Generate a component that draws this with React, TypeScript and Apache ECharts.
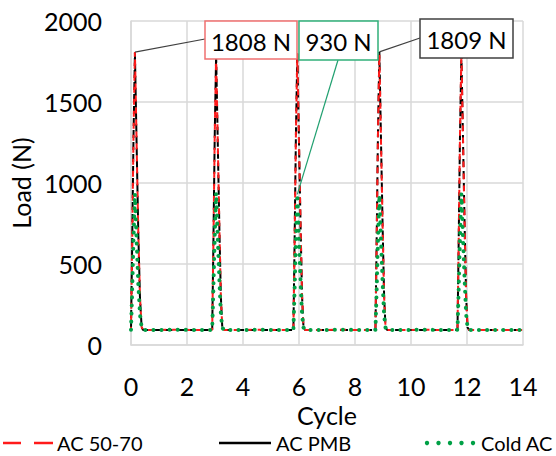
import React, { useEffect, useRef } from "react";
import * as echarts from "echarts";

// Sampled cycle positions shared by all three mixtures
const cycles = [
  0, 0.04, 0.09, 0.14, 0.2, 0.26, 0.32, 0.38, 0.44, 1.0, 1.6, 2.2, 2.84,
  2.9, 2.94, 2.99, 3.04, 3.1, 3.16, 3.21, 3.26, 3.32, 4.0, 4.6, 5.2, 5.74,
  5.8, 5.84, 5.89, 5.94, 6.0, 6.06, 6.11, 6.16, 6.22, 6.9, 7.5, 8.1, 8.67,
  8.73, 8.77, 8.82, 8.87, 8.93, 8.99, 9.04, 9.09, 9.15, 9.8, 10.4, 11.0, 11.6,
  11.66, 11.7, 11.75, 11.8, 11.86, 11.92, 11.97, 12.02, 12.08, 12.7, 13.3, 14.0,
];

// Load (N) per mixture at the sampled cycles
const loadAC5070 = [
  94, 600, 1300, 1808, 1250, 700, 300, 110, 93, 93, 94, 93, 93,
  94, 590, 1290, 1790, 1240, 690, 300, 108, 93, 93, 94, 93, 93,
  94, 600, 1300, 1800, 1250, 700, 300, 110, 93, 93, 94, 93, 93,
  94, 595, 1295, 1796, 1245, 700, 300, 110, 93, 93, 94, 93, 93,
  94, 600, 1300, 1805, 1250, 700, 300, 110, 93, 93, 93, 93,
];
const loadPMB = [
  93, 595, 1295, 1803, 1245, 695, 295, 108, 92, 92, 93, 92, 92,
  93, 590, 1290, 1795, 1240, 690, 295, 108, 92, 92, 93, 92, 92,
  93, 600, 1300, 1806, 1250, 700, 300, 110, 92, 92, 93, 92, 92,
  93, 600, 1300, 1809, 1250, 700, 300, 110, 92, 92, 93, 92, 92,
  93, 595, 1295, 1798, 1245, 695, 295, 108, 92, 92, 92, 92,
];
const loadColdAC = [
  94, 320, 660, 935, 650, 380, 190, 108, 93, 93, 94, 93, 93,
  94, 330, 665, 940, 655, 385, 190, 108, 93, 93, 94, 93, 93,
  94, 320, 655, 930, 645, 375, 185, 108, 93, 93, 94, 93, 93,
  94, 315, 650, 925, 640, 370, 185, 108, 93, 93, 94, 93, 93,
  94, 320, 660, 935, 650, 380, 190, 108, 93, 93, 93, 93,
];

// Annotated peaks: [cycle, load]
const peakAC5070: [number, number] = [0.14, 1808];
const peakColdAC: [number, number] = [5.94, 930];
const peakPMB: [number, number] = [8.87, 1809];

const FONT = "Lato, 'Open Sans', sans-serif";
const RED = "#ff1a1a";
const BLACK = "#000000";
const GREEN = "#00a046";
const GRID = "#d9d9d9";
const LEGEND_Y = 443;

const zip = (xs: number[], ys: number[]) => xs.map((x, i) => [x, ys[i]]);

export default function App() {
  const ref = useRef<HTMLDivElement>(null);

  useEffect(() => {
    if (!ref.current) return;
    const chart = echarts.init(ref.current, null, { renderer: "svg" });
    chart.setOption({
      animation: false,
      backgroundColor: "#ffffff",
      grid: { left: 131, right: 33, top: 21, bottom: 111 },
      xAxis: {
        type: "value",
        min: 0,
        max: 14,
        interval: 2,
        name: "Cycle",
        nameLocation: "middle",
        nameGap: 55,
        nameTextStyle: { fontSize: 25, color: "#000", fontFamily: FONT },
        axisLine: { show: true, lineStyle: { color: GRID, width: 1.5 } },
        axisTick: { show: false },
        axisLabel: { fontSize: 25, color: "#000", fontFamily: FONT, margin: 28, formatter: (v: number) => String(v) },
        splitLine: { show: true, lineStyle: { color: GRID, width: 1.5 } },
      },
      yAxis: {
        type: "value",
        min: 0,
        max: 2000,
        interval: 500,
        name: "Load (N)",
        nameLocation: "middle",
        nameGap: 93,
        nameTextStyle: { fontSize: 25, color: "#000", fontFamily: FONT },
        axisLine: { show: true, lineStyle: { color: GRID, width: 1.5 } },
        axisTick: { show: false },
        axisLabel: { fontSize: 25, color: "#000", fontFamily: FONT, margin: 29, formatter: (v: number) => String(v) },
        splitLine: { show: true, lineStyle: { color: GRID, width: 1.5 } },
      },
      series: [
        {
          name: "AC PMB",
          type: "line",
          data: zip(cycles, loadPMB),
          showSymbol: false,
          lineStyle: { color: BLACK, width: 2, type: [8, 4] },
        },
        {
          name: "AC 50-70",
          type: "line",
          data: zip(cycles, loadAC5070),
          showSymbol: false,
          lineStyle: { color: RED, width: 2, type: [6, 6], dashOffset: 3 },
        },
        {
          name: "Cold AC",
          type: "line",
          data: zip(cycles, loadColdAC),
          showSymbol: false,
          lineStyle: { color: GREEN, width: 4, type: [0.1, 8], cap: "round" },
        },
      ],
    });

    const px = (p: [number, number]) => chart.convertToPixel({ gridIndex: 0 }, p) as number[];
    const a = px(peakAC5070);
    const c = px(peakColdAC);
    const b = px(peakPMB);

    const box = (x: number, y: number, w: number, h: number, stroke: string, text: string) => [
      {
        type: "rect",
        shape: { x, y, width: w, height: h },
        style: { fill: "#ffffff", stroke, lineWidth: 1.5 },
        z: 10,
      },
      {
        type: "text",
        x: x + w / 2,
        y: y + h / 2 + 1,
        style: {
          text,
          fontSize: 24,
          fontFamily: FONT,
          fill: "#000",
          align: "center",
          verticalAlign: "middle",
        },
        z: 11,
      },
    ];

    const legendText = (x: number, text: string) => ({
      type: "text",
      x,
      y: LEGEND_Y,
      style: { text, fontSize: 20, fontFamily: FONT, fill: "#000", verticalAlign: "middle" },
    });

    chart.setOption({
      graphic: [
        // leader lines
        { type: "line", shape: { x1: a[0], y1: a[1], x2: 205, y2: 39 }, style: { stroke: "#404040", lineWidth: 1.2 }, z: 9 },
        { type: "line", shape: { x1: c[0], y1: c[1], x2: 338, y2: 60 }, style: { stroke: "#20a070", lineWidth: 1.2 }, z: 9 },
        { type: "line", shape: { x1: b[0], y1: b[1], x2: 420, y2: 38 }, style: { stroke: "#404040", lineWidth: 1.2 }, z: 9 },
        ...box(205, 21, 92, 38, "#f07070", "1808 N"),
        ...box(299, 21, 79, 39, "#30b07a", "930 N"),
        ...box(420, 19, 93, 39, "#404040", "1809 N"),
        // legend
        { type: "line", shape: { x1: 3, y1: LEGEND_Y, x2: 21, y2: LEGEND_Y }, style: { stroke: RED, lineWidth: 2.5 } },
        { type: "line", shape: { x1: 34, y1: LEGEND_Y, x2: 53, y2: LEGEND_Y }, style: { stroke: RED, lineWidth: 2.5 } },
        legendText(57, "AC 50-70"),
        { type: "line", shape: { x1: 219, y1: LEGEND_Y, x2: 271, y2: LEGEND_Y }, style: { stroke: BLACK, lineWidth: 2.5 } },
        legendText(276, "AC PMB"),
        ...[427, 438.5, 450, 461.5, 473].map((x) => ({
          type: "circle",
          shape: { cx: x, cy: LEGEND_Y, r: 2.2 },
          style: { fill: GREEN },
        })),
        legendText(481, "Cold AC"),
      ],
    });

    return () => chart.dispose();
  }, []);

  return (
    <div
      ref={ref}
      style={{ position: "fixed", left: 0, top: 0, width: 556, height: 456 }}
    />
  );
}
